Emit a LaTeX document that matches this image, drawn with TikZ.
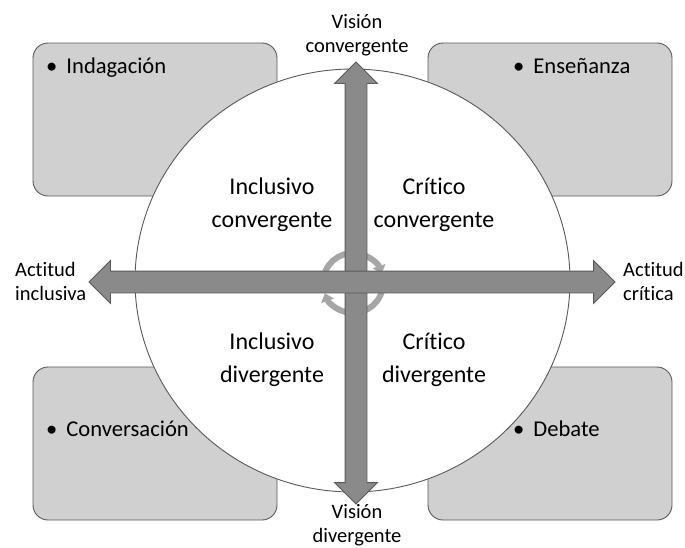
\documentclass[tikz,border=0pt]{standalone}
\usepackage{fontspec}
\setmainfont[Ligatures=NoCommon]{Carlito}
\usetikzlibrary{arrows.meta, shapes.arrows, positioning}
\definecolor{boxgray}{RGB}{208,208,208}
\definecolor{linegray}{RGB}{89,89,89}
\definecolor{arrowgray}{RGB}{138,138,138}
\definecolor{ringgray}{RGB}{166,166,166}

\begin{document}
\begin{tikzpicture}[x=1pt, y=-1pt,
    panel/.style={draw=linegray, fill=boxgray, rounded corners=15pt, line width=0.9pt},
    axis/.style={double arrow, draw=linegray, fill=arrowgray, line width=0.8pt,
        inner xsep=0pt, inner ysep=10.5pt,
        minimum width=42pt, double arrow head extend=10.5pt, double arrow tip angle=90},
    axislabel/.style={font=\fontsize{20.5}{24}\selectfont, inner sep=0pt},
    quadrant/.style={font=\fontsize{24}{33}\selectfont, align=center, inner sep=0pt},
    item/.style={font=\fontsize{22.6}{27}\selectfont, anchor=base west, inner sep=0pt},
    ring/.style={draw=ringgray, line width=6pt, -{Triangle[width=13pt, length=8pt]}}]
\useasboundingbox (0,0) rectangle (685,547);
\foreach \x/\y in {33/43, 428/43, 33/367, 428/367}
{
    \draw[panel] (\x,\y) rectangle ++(244,153);
}
\draw[linegray, line width=0.9pt, fill=white] (352.5,280.5) ellipse [x radius=217.5pt, y radius=211.5pt];
\node[quadrant] (inclConv) at (272,205) {Inclusivo\\convergente};
\node[quadrant] (critConv) at (434,205) {Crítico\\convergente};
\node[quadrant] (inclDiv) at (272,360) {Inclusivo\\divergente};
\node[quadrant] (critDiv) at (434,360) {Crítico\\divergente};
\coordinate (hub) at (353,283);
\draw[ring] (hub) ++(165:30pt) arc [start angle=165, end angle=18, radius=30pt];
\draw[ring] (hub) ++(-15:30pt) arc [start angle=-15, end angle=-160, radius=30pt];
\node[axis, minimum height=442pt, shape border rotate=90, inner xsep=10.5pt, inner ysep=0pt] (vision) at (356,283) {};
\node[axis, minimum height=526pt] (actitud) at (352,282) {};
\node[axislabel, align=center] (visConv) at (357,35.5) {Visión\\convergente};
\node[axislabel, align=center] (visDiv) at (357,525) {Visión\\divergente};
\node[axislabel, align=left, anchor=west] (actIncl) at (15,281) {Actitud\\inclusiva};
\node[axislabel, align=left, anchor=west] (actCrit) at (623,281) {Actitud\\crítica};
\node[item] (indagacion) at (46,73.5) {•\hspace{9pt}Indagación};
\node[item] (ensenanza) at (513,73.5) {•\hspace{9pt}Enseñanza};
\node[item] (conversacion) at (46,436) {•\hspace{9pt}Conversación};
\node[item] (debate) at (513,436) {•\hspace{9pt}Debate};
\end{tikzpicture}
\end{document}
